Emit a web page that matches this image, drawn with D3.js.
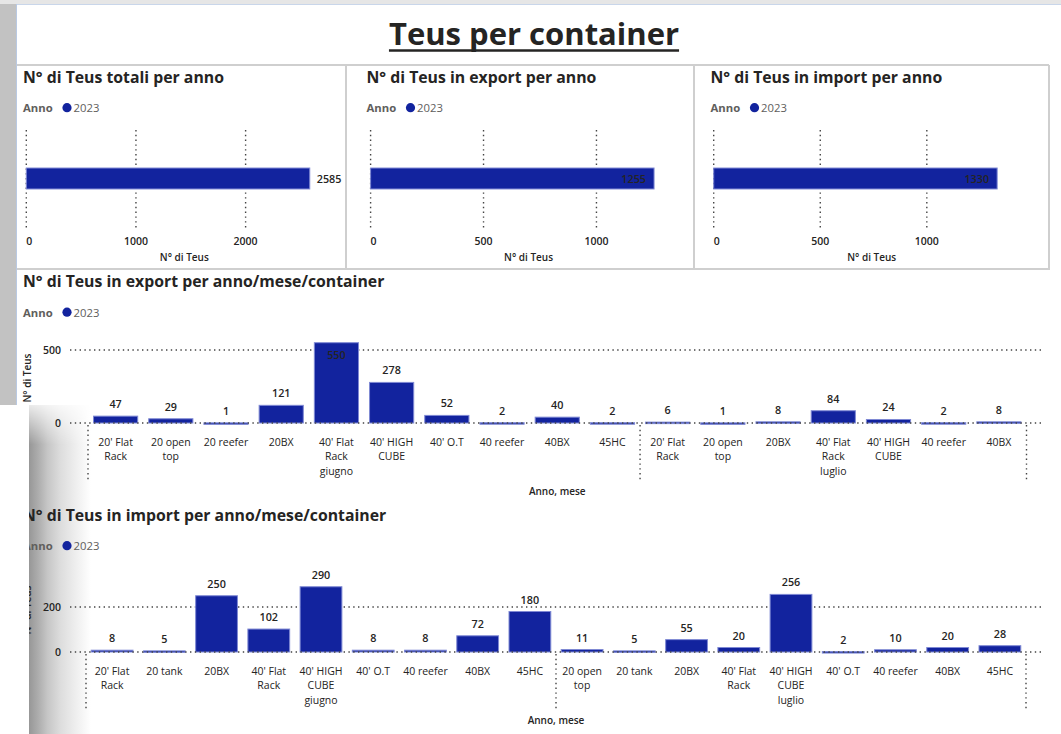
<!DOCTYPE html>
<html lang="it">
<head>
<meta charset="UTF-8">
<title>Teus per container</title>
<script src="https://cdn.jsdelivr.net/npm/d3@7"></script>
<style>
  body { margin: 0; background: #fff; }
  svg { display: block; font-family: "Open Sans", "Noto Sans", sans-serif; }
  .title { font-size: 15.8px; font-weight: 700; fill: #252423; }
  .legend-key { font-size: 11.3px; font-weight: 700; fill: #605E5C; }
  .legend-val { font-size: 11.3px; fill: #605E5C; }
  .tick { font-size: 10.5px; font-weight: 600; fill: #252423; }
  .axis-title { font-size: 10px; font-weight: 600; fill: #252423; }
  .value { font-size: 10.8px; font-weight: 600; fill: #252423; }
  .cat { font-size: 10.5px; font-weight: 500; fill: #252423; }
</style>
</head>
<body>
<svg id="chart" width="1061" height="734"></svg>
<script>
// legenda
const years = ["2023"];

// totali per anno
const totalTeus = [2585];
const exportTeus = [1255];
const importTeus = [1330];
const totalTicks = [0, 1000, 2000];
const exportTicks = [0, 500, 1000];
const importTicks = [0, 500, 1000];

const months = ["giugno", "luglio"];

// export per anno/mese/container
const exportJuneTypes = ["20' Flat Rack", "20 open top", "20 reefer", "20BX", "40' Flat Rack", "40' HIGH CUBE", "40' O.T", "40 reefer", "40BX", "45HC"];
const exportJuneTeus = [47, 29, 1, 121, 550, 278, 52, 2, 40, 2];
const exportJulyTypes = ["20' Flat Rack", "20 open top", "20BX", "40' Flat Rack", "40' HIGH CUBE", "40 reefer", "40BX"];
const exportJulyTeus = [6, 1, 8, 84, 24, 2, 8];
const exportYTicks = [0, 500];

// import per anno/mese/container
const importJuneTypes = ["20' Flat Rack", "20 tank", "20BX", "40' Flat Rack", "40' HIGH CUBE", "40' O.T", "40 reefer", "40BX", "45HC"];
const importJuneTeus = [8, 5, 250, 102, 290, 8, 8, 72, 180];
const importJulyTypes = ["20 open top", "20 tank", "20BX", "40' Flat Rack", "40' HIGH CUBE", "40' O.T", "40 reefer", "40BX", "45HC"];
const importJulyTeus = [11, 5, 55, 20, 256, 2, 10, 20, 28];
const importYTicks = [0, 200];

const BLUE = "#12239E";
const BAR_EDGE = "#7f89d4";
const DOTS = "1.4 3.4";
const svg = d3.select("#chart");

// --- ombra della finestra sovrapposta a sinistra (sotto il contenuto) ---
const defs = svg.append("defs");
const shade = defs.append("linearGradient").attr("id", "shade").attr("x1", 0).attr("x2", 1).attr("y1", 0).attr("y2", 0);
[[0, "#979797"], [0.15, "#adadad"], [0.3, "#c6c6c6"], [0.5, "#dcdcdc"], [0.75, "#eeeeee"], [1, "#ffffff"]]
  .forEach(s => shade.append("stop").attr("offset", s[0]).attr("stop-color", s[1]));
const fade = defs.append("linearGradient").attr("id", "fade").attr("x1", 0).attr("x2", 0).attr("y1", 0).attr("y2", 1);
fade.append("stop").attr("offset", 0).attr("stop-color", "#fff").attr("stop-opacity", 0.2);
fade.append("stop").attr("offset", 0.12).attr("stop-color", "#fff").attr("stop-opacity", 1);
fade.append("stop").attr("offset", 1).attr("stop-color", "#fff").attr("stop-opacity", 1);
defs.append("mask").attr("id", "fadeMask").attr("maskUnits", "userSpaceOnUse")
  .append("rect").attr("x", 28).attr("y", 405).attr("width", 64).attr("height", 329).attr("fill", "url(#fade)");
svg.append("rect").attr("x", 29).attr("y", 405).attr("width", 62).attr("height", 329)
  .attr("fill", "url(#shade)").attr("mask", "url(#fadeMask)");

// --- cornice pagina ---
svg.append("rect").attr("x", 0).attr("y", 0).attr("width", 1061).attr("height", 4).attr("fill", "#e6e6e6");
svg.append("rect").attr("x", 0).attr("y", 4).attr("width", 16).attr("height", 401).attr("fill", "#c2c2c2");
svg.append("line").attr("x1", 16).attr("x2", 1061).attr("y1", 4.5).attr("y2", 4.5).attr("stroke", "#c9d6ea");
svg.append("line").attr("x1", 16.5).attr("x2", 16.5).attr("y1", 4).attr("y2", 405).attr("stroke", "#b9c9e2");

const frame = svg.append("g").attr("stroke", "#cfcfcf").attr("stroke-width", 2).attr("fill", "none");
frame.append("line").attr("x1", 17).attr("x2", 1049).attr("y1", 65).attr("y2", 65);
frame.append("line").attr("x1", 17).attr("x2", 1049).attr("y1", 269).attr("y2", 269);
[346, 694, 1049].forEach(x => frame.append("line").attr("x1", x).attr("x2", x).attr("y1", 65).attr("y2", 270));

// titolo
const main = svg.append("text").attr("x", 534).attr("y", 45).attr("text-anchor", "middle")
  .attr("font-size", 31).attr("font-weight", 700).attr("fill", "#252423").text("Teus per container");
const mb = main.node().getBBox();
svg.append("line").attr("x1", mb.x).attr("x2", mb.x + mb.width).attr("y1", 50.5).attr("y2", 50.5)
  .attr("stroke", "#252423").attr("stroke-width", 2.5);

function legend(g, x, y) {
  g.append("text").attr("class", "legend-key").attr("x", x).attr("y", y).text("Anno");
  g.selectAll(".lg").data(years).join("g").each(function(d) {
    const s = d3.select(this);
    s.append("circle").attr("cx", x + 44).attr("cy", y - 4.3).attr("r", 4.6).attr("fill", BLUE);
    s.append("text").attr("class", "legend-val").attr("x", x + 50.5).attr("y", y).text(d);
  });
}

// --- barre orizzontali totali ---
function drawTotal(left, plotX, title, values, ticks, inside) {
  const g = svg.append("g");
  g.append("text").attr("class", "title").attr("x", left + 6).attr("y", 83).text(title);
  legend(g, left + 6, 112);

  const x = d3.scaleLinear().domain([0, values[0] / 0.897]).range([plotX, plotX + 316]);
  const y = d3.scaleBand().domain(years).range([130, 227]).paddingInner(0.2).paddingOuter(1.45);

  g.selectAll(".grid").data(ticks).join("line")
    .attr("x1", d => x(d)).attr("x2", d => x(d)).attr("y1", 130).attr("y2", 230)
    .attr("stroke", "#444").attr("stroke-width", 1.4).attr("stroke-dasharray", DOTS);

  g.selectAll(".bar").data(values).join("rect")
    .attr("x", x(0)).attr("y", (d, i) => y(years[i]))
    .attr("width", d => x(d) - x(0)).attr("height", y.bandwidth())
    .attr("fill", BLUE).attr("stroke", BAR_EDGE).attr("stroke-width", 1);

  g.selectAll(".val").data(values).join("text").attr("class", "value")
    .attr("x", d => inside ? x(d) - 8 : x(d) + 7)
    .attr("y", (d, i) => y(years[i]) + y.bandwidth() / 2 + 4)
    .attr("text-anchor", inside ? "end" : "start")
    .text(d => d);

  g.selectAll(".tl").data(ticks).join("text").attr("class", "tick")
    .attr("x", d => x(d)).attr("y", 245)
    .attr("text-anchor", d => d === 0 ? "start" : "middle")
    .text(d => d);

  g.append("text").attr("class", "axis-title").attr("x", plotX + 158).attr("y", 261)
    .attr("text-anchor", "middle").text("N° di Teus");
}

drawTotal(17, 26.3, "N° di Teus totali per anno", totalTeus, totalTicks, false);
drawTotal(360.5, 370.6, "N° di Teus in export per anno", exportTeus, exportTicks, true);
drawTotal(704.5, 713.7, "N° di Teus in import per anno", importTeus, importTicks, true);

// --- colonne per anno/mese/container ---
function flatten(groups) {
  const out = [];
  groups.forEach((grp, gi) => grp.types.forEach((t, i) => out.push({ month: gi, type: t, value: grp.values[i] })));
  return out;
}

function splitLabel(s) {
  const w = s.split(" ");
  return w.length > 2 ? [w.slice(0, -1).join(" "), w[w.length - 1]] : [s];
}

function drawColumns(cfg) {
  const g = svg.append("g");
  g.append("text").attr("class", "title").attr("x", 23).attr("y", cfg.titleY).text(cfg.title);
  legend(g, 23, cfg.titleY + 29.5);

  const data = cfg.data;
  const x = d3.scaleBand().domain(d3.range(data.length)).range([cfg.x0, cfg.x1])
    .paddingInner(0.2).paddingOuter(0.1);
  const y = d3.scaleLinear().domain([0, cfg.yTicks[1]]).range([cfg.base, cfg.tickTop]);

  // griglia superiore
  g.selectAll(".grid").data(cfg.yTicks.filter(d => d > 0)).join("line")
    .attr("x1", 70).attr("x2", 1044).attr("y1", d => y(d)).attr("y2", d => y(d))
    .attr("stroke", "#444").attr("stroke-width", 1.4).attr("stroke-dasharray", DOTS);

  g.selectAll(".bar").data(data).join("rect")
    .attr("x", (d, i) => x(i)).attr("width", x.bandwidth())
    .attr("y", d => y(d.value)).attr("height", d => Math.max(1.5, y(0) - y(d.value)))
    .attr("fill", BLUE).attr("stroke", BAR_EDGE).attr("stroke-width", 1);

  // linea zero sopra le barre
  g.append("line").attr("x1", 70).attr("x2", 1044).attr("y1", y(0)).attr("y2", y(0))
    .attr("stroke", "#444").attr("stroke-width", 1.4).attr("stroke-dasharray", DOTS);

  g.selectAll(".val").data(data).join("text").attr("class", "value")
    .attr("x", (d, i) => x(i) + x.bandwidth() / 2)
    .attr("y", d => y(d.value) - 17 < cfg.plotTop ? y(d.value) + 16 : y(d.value) - 8)
    .attr("text-anchor", "middle")
    .text(d => d.value);

  g.selectAll(".yt").data(cfg.yTicks).join("text").attr("class", "tick")
    .attr("x", 61).attr("y", d => y(d) + 4).attr("text-anchor", "end").text(d => d);

  g.append("text").attr("class", "axis-title")
    .attr("transform", `translate(31,${(cfg.plotTop + cfg.base) / 2}) rotate(-90)`)
    .attr("text-anchor", "middle").text("N° di Teus");

  // etichette categoria
  const lineY = k => cfg.base + 22.5 + k * 14.6;
  data.forEach((d, i) => {
    const lines = splitLabel(d.type);
    d.lines = lines.length;
    g.append("text").attr("class", "cat").attr("text-anchor", "middle")
      .attr("x", x(i) + x.bandwidth() / 2)
      .selectAll("tspan").data(lines).join("tspan")
      .attr("x", x(i) + x.bandwidth() / 2).attr("y", (l, k) => lineY(k)).text(l => l);
  });

  // mesi + separatori
  const step = x.step();
  let start = 0;
  const seps = [0];
  months.forEach((m, mi) => {
    const n = data.filter(d => d.month === mi).length;
    const mid = start + Math.floor((n - 1) / 2);
    g.append("text").attr("class", "cat").attr("text-anchor", "middle")
      .attr("x", x(mid) + x.bandwidth() / 2).attr("y", lineY(data[mid].lines)).text(m);
    start += n;
    seps.push(start);
  });
  g.selectAll(".sep").data(seps).join("line")
    .attr("x1", d => cfg.x0 + d * step).attr("x2", d => cfg.x0 + d * step)
    .attr("y1", cfg.base + 2).attr("y2", cfg.base + 57)
    .attr("stroke", "#444").attr("stroke-width", 1.4).attr("stroke-dasharray", DOTS);

  g.append("text").attr("class", "axis-title").attr("x", (cfg.x0 + cfg.x1) / 2).attr("y", cfg.base + 71.5)
    .attr("text-anchor", "middle").text("Anno, mese");
}

drawColumns({
  title: "N° di Teus in export per anno/mese/container", titleY: 287,
  data: flatten([{ types: exportJuneTypes, values: exportJuneTeus }, { types: exportJulyTypes, values: exportJulyTeus }]),
  yTicks: exportYTicks, base: 423, tickTop: 350, plotTop: 333, x0: 88, x1: 1026.5
});

drawColumns({
  title: "N° di Teus in import per anno/mese/container", titleY: 520.5,
  data: flatten([{ types: importJuneTypes, values: importJuneTeus }, { types: importJulyTypes, values: importJulyTeus }]),
  yTicks: importYTicks, base: 652, tickTop: 607, plotTop: 568, x0: 86, x1: 1026
});

// bordo bianco della finestra sovrapposta (copre il bordo sinistro)
svg.append("rect").attr("x", 0).attr("y", 405).attr("width", 29).attr("height", 329).attr("fill", "#fff");
</script>
</body>
</html>
